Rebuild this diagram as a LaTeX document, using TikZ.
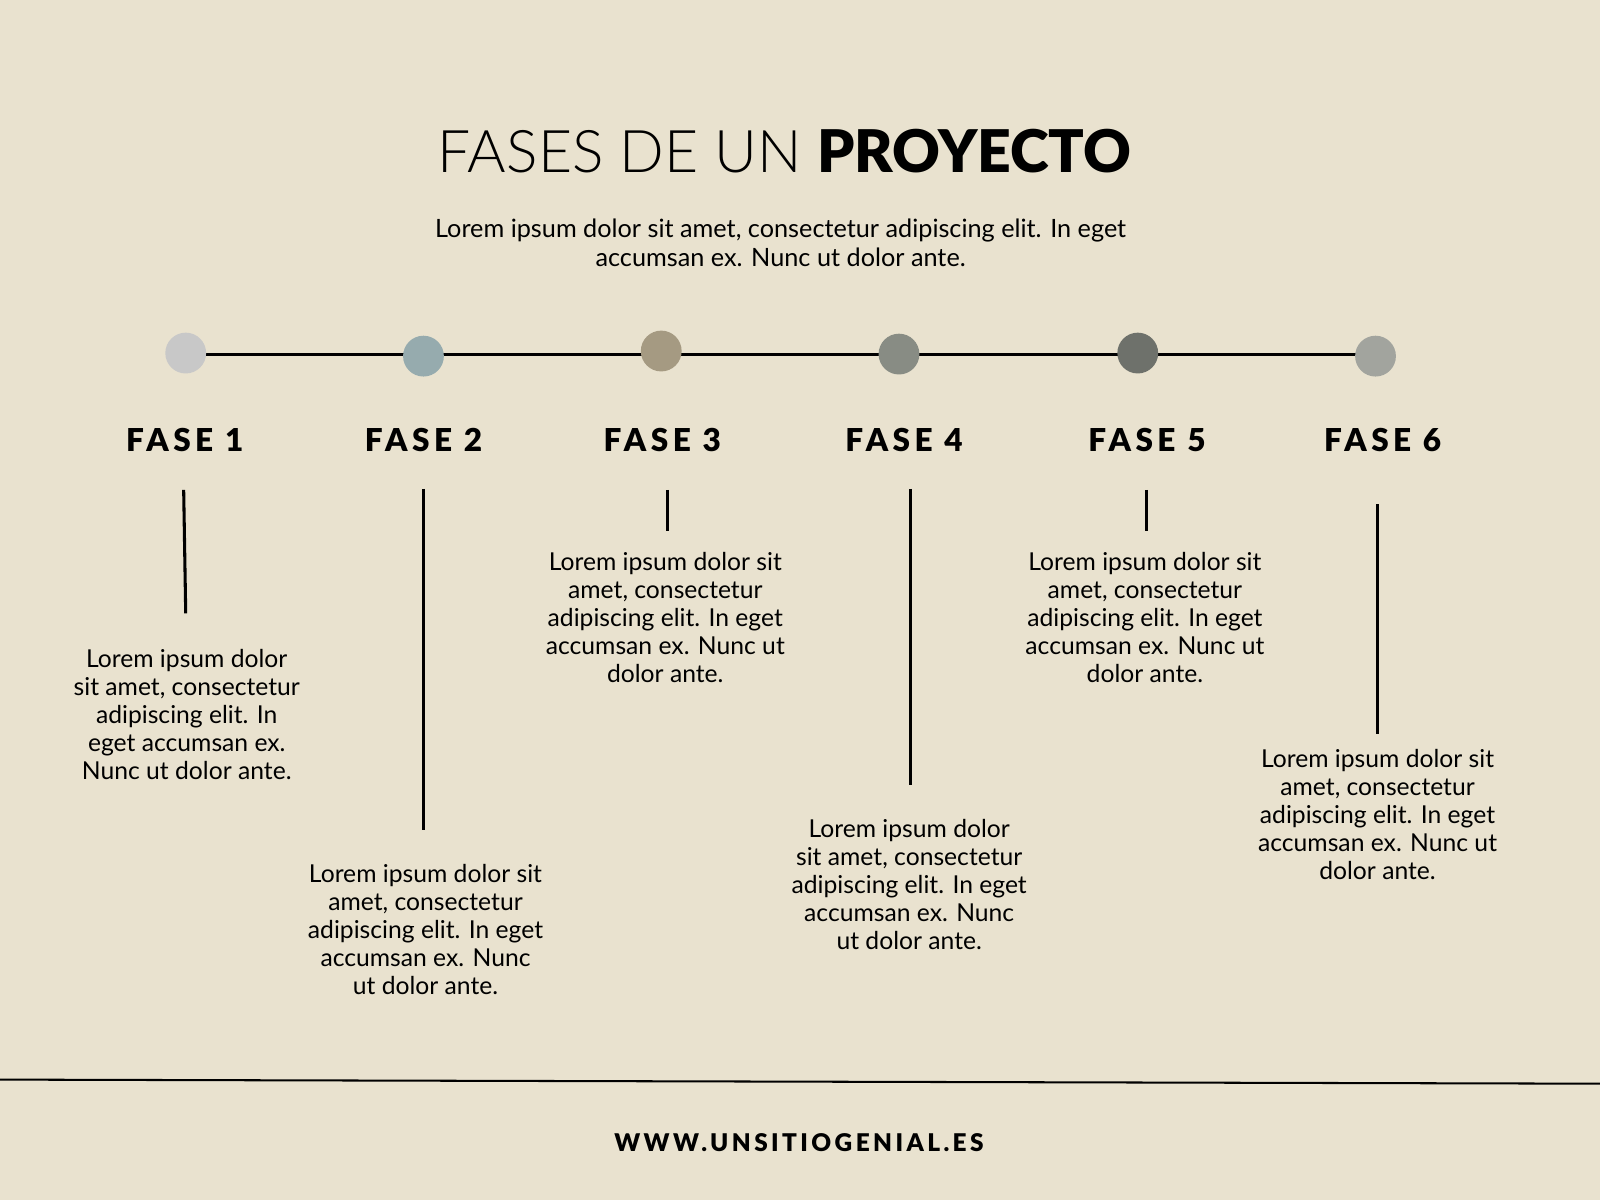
\documentclass[tikz,border=0pt]{standalone}
\usepackage{fontspec}
\setmainfont{Lato}
\newfontfamily\lightfont{Lato Light}
\newfontfamily\blackfont{Lato Black}
\newfontfamily\spacedfont{Lato Black}[LetterSpace=14]
\usetikzlibrary{backgrounds}
\definecolor{paper}{HTML}{E9E2CF}
\definecolor{dotA}{HTML}{C8C8C8}
\definecolor{dotB}{HTML}{96ABAE}
\definecolor{dotC}{HTML}{A59A82}
\definecolor{dotD}{HTML}{888C84}
\definecolor{dotE}{HTML}{6E716B}
\definecolor{dotF}{HTML}{A2A49E}

\begin{document}
\begin{tikzpicture}[x=0.25mm,y=-0.25mm,
                dot/.style={circle,inner sep=0pt,minimum size=10mm},
                phase/.style={font=\fontsize{22}{26}\selectfont\spacedfont},
                body/.style={align=center,font=\fontsize{17.2}{19.6}\selectfont},
                stem/.style={line width=0.75mm}]
	\useasboundingbox (0,0) rectangle (1568,1176);

	% title and intro
	\node (title) at (769,148) {\fontsize{41}{48}\selectfont\lightfont FASES DE UN \blackfont PROYECTO};
	\node[body,font=\fontsize{17.6}{20}\selectfont] (intro) at (765,238) {Lorem ipsum dolor sit amet, consectetur adipiscing elit. In eget\\accumsan ex. Nunc ut dolor ante.};

	% timeline dots
	\node[dot,fill=dotA] (1) at (182,346) {};
	\node[dot,fill=dotB] (2) at (415,349) {};
	\node[dot,fill=dotC] (3) at (648,344) {};
	\node[dot,fill=dotD] (4) at (881,347) {};
	\node[dot,fill=dotE] (5) at (1115,346) {};
	\node[dot,fill=dotF] (6) at (1348,349) {};
	\begin{scope}[on background layer]
	\fill[paper] (0,0) rectangle (1568,1176);
	\draw[stem] (4.center -| 1.center) -- (4.center -| 6.center);
	\end{scope}

	% phase labels
	\node[phase] (f1) at (181,431) {FASE 1};
	\node[phase] (f2) at (415,431) {FASE 2};
	\node[phase] (f3) at (649,431) {FASE 3};
	\node[phase] (f4) at (886,431) {FASE 4};
	\node[phase] (f5) at (1124,431) {FASE 5};
	\node[phase] (f6) at (1355,431) {FASE 6};

	% descriptions
	\node[body] (t1) at (183,700) {Lorem ipsum dolor\\sit amet, consectetur\\adipiscing elit. In\\eget accumsan ex.\\Nunc ut dolor ante.};
	\node[body] (t2) at (417,911) {Lorem ipsum dolor sit\\amet, consectetur\\adipiscing elit. In eget\\accumsan ex. Nunc\\ut dolor ante.};
	\node[body] (t3) at (652,605) {Lorem ipsum dolor sit\\amet, consectetur\\adipiscing elit. In eget\\accumsan ex. Nunc ut\\dolor ante.};
	\node[body] (t4) at (891,867) {Lorem ipsum dolor\\sit amet, consectetur\\adipiscing elit. In eget\\accumsan ex. Nunc\\ut dolor ante.};
	\node[body] (t5) at (1122,605) {Lorem ipsum dolor sit\\amet, consectetur\\adipiscing elit. In eget\\accumsan ex. Nunc ut\\dolor ante.};
	\node[body] (t6) at (1350,798) {Lorem ipsum dolor sit\\amet, consectetur\\adipiscing elit. In eget\\accumsan ex. Nunc ut\\dolor ante.};

	% stems
	\coordinate (s1a) at (180,480); \coordinate (s1b) at (182,601);
	\coordinate (s2a) at (415,479); \coordinate (s2b) at (415,813);
	\coordinate (s3a) at (654,480); \coordinate (s3b) at (654,520);
	\coordinate (s4a) at (892,479); \coordinate (s4b) at (892,769);
	\coordinate (s5a) at (1124,480); \coordinate (s5b) at (1124,520);
	\coordinate (s6a) at (1350,494); \coordinate (s6b) at (1350,719);
	\draw[stem] (s1a) -- (s1b);
	\draw[stem] (s2a) -- (s2b);
	\draw[stem] (s3a) -- (s3b);
	\draw[stem] (s4a) -- (s4b);
	\draw[stem] (s5a) -- (s5b);
	\draw[stem] (s6a) -- (s6b);

	% footer
	\coordinate (rule l) at (0,1058);
	\coordinate (rule r) at (1568,1062);
	\draw[line width=0.5mm] (rule l) -- (rule r);
	\node[font=\fontsize{17}{20}\selectfont\spacedfont] (web) at (783,1120) {WWW.UNSITIOGENIAL.ES};
\end{tikzpicture}
\end{document}
